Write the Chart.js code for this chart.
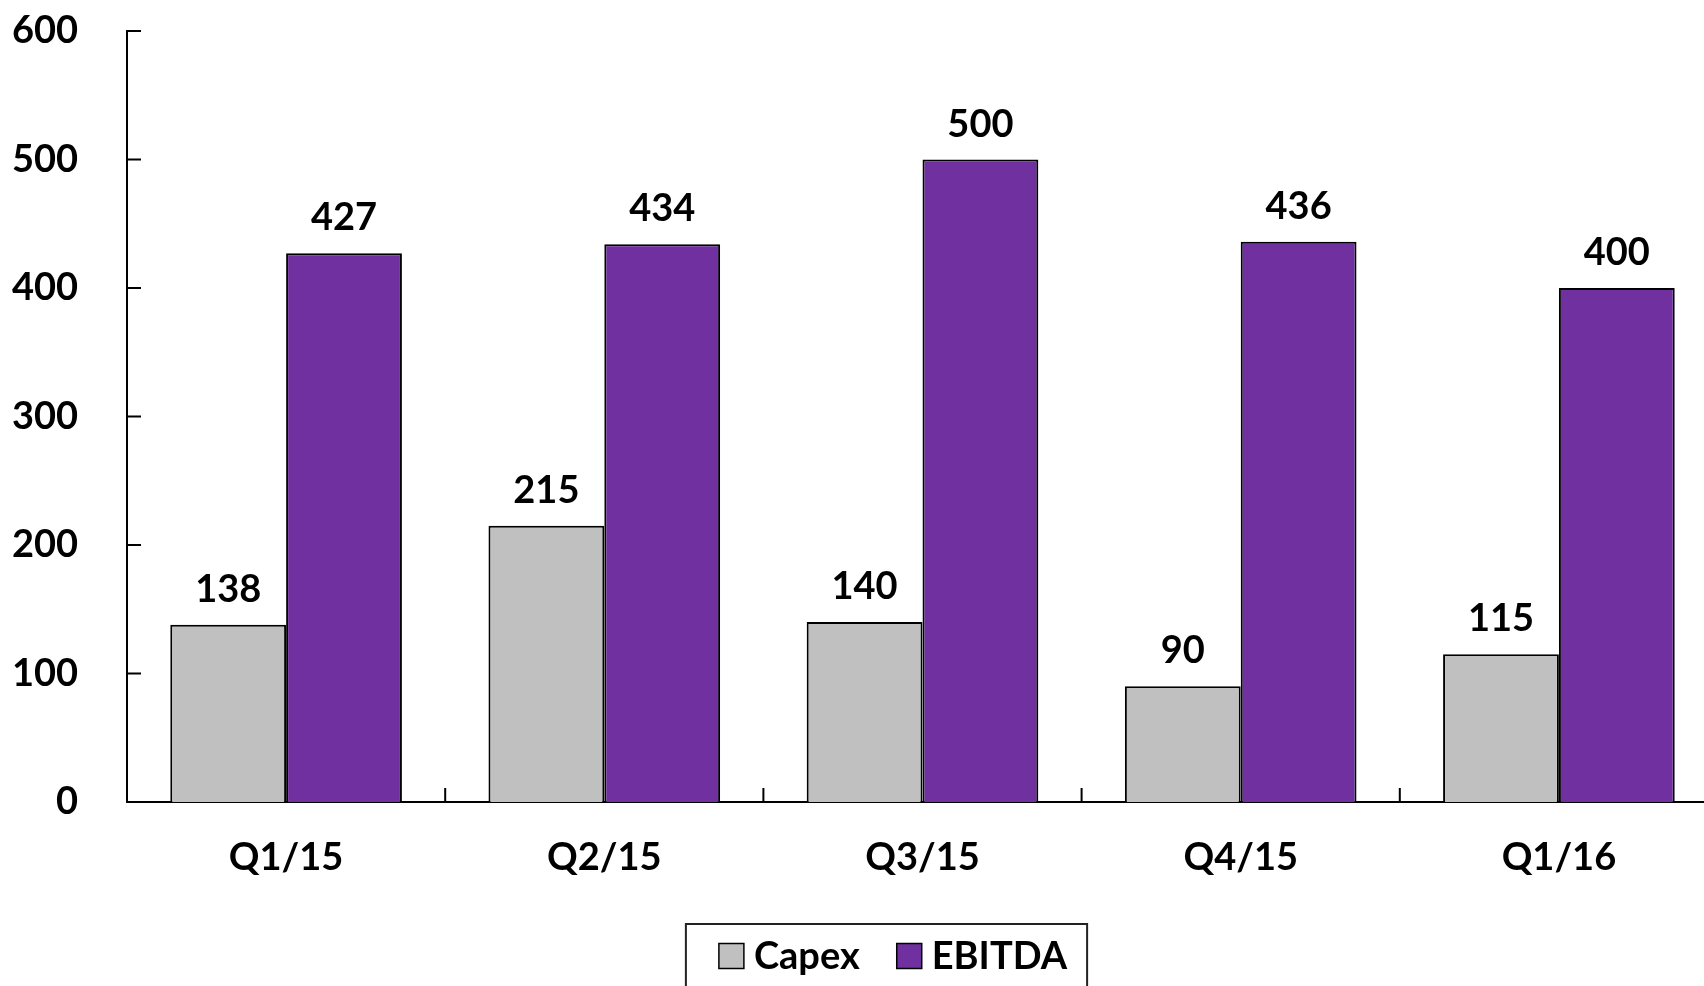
<!DOCTYPE html>
<html>
<head>
<meta charset="utf-8">
<title>Capex vs EBITDA</title>
<script src="https://cdn.jsdelivr.net/npm/chart.js@4.4.1/dist/chart.umd.min.js"></script>
<style>
    html, body { margin: 0; padding: 0; background: #fff; overflow: hidden; }
    #chart-wrap { width: 1718px; height: 992px; }
</style>
</head>
<body>
<div id="chart-wrap"><canvas id="capexChart" width="1718" height="992"></canvas></div>
<script>
// Chart data
const categories = ['Q1/15', 'Q2/15', 'Q3/15', 'Q4/15', 'Q1/16'];
const capexValues = [138, 215, 140, 90, 115];
const ebitdaValues = [427, 434, 500, 436, 400];
const yTicks = [0, 100, 200, 300, 400, 500, 600];

const FONT = 'Lato, "Open Sans", sans-serif';
const BOLD = { family: FONT, size: 38, weight: 'bold' };

// Inward tick marks on both axes (Excel style)
const innerTicks = {
    id: 'innerTicks',
    afterDraw(chart) {
        const { ctx, chartArea, scales } = chart;
        ctx.save();
        ctx.strokeStyle = '#000';
        ctx.lineWidth = 2;
        ctx.beginPath();
        scales.y.ticks.forEach(t => {
            const y = scales.y.getPixelForValue(t.value);
            ctx.moveTo(chartArea.left, y);
            ctx.lineTo(chartArea.left + 14, y);
        });
        // category boundaries
        for (let i = 1; i < categories.length; i++) {
            const x = (scales.x.getPixelForValue(i - 1) + scales.x.getPixelForValue(i)) / 2;
            ctx.moveTo(x, chartArea.bottom);
            ctx.lineTo(x, chartArea.bottom - 14);
        }
        ctx.stroke();
        ctx.restore();
    }
};

// Value labels above each bar
const valueLabels = {
    id: 'valueLabels',
    afterDatasetsDraw(chart) {
        const { ctx } = chart;
        ctx.save();
        ctx.font = `bold ${BOLD.size}px ${FONT}`;
        ctx.fillStyle = '#000';
        ctx.textAlign = 'center';
        ctx.textBaseline = 'alphabetic';
        chart.data.datasets.forEach((ds, di) => {
            chart.getDatasetMeta(di).data.forEach((bar, i) => {
                ctx.fillText(String(ds.data[i]), bar.x, bar.y - 23);
            });
        });
        ctx.restore();
    }
};

// Boxed legend below the axis
const boxedLegend = {
    id: 'boxedLegend',
    afterDraw(chart) {
        const { ctx } = chart;
        const sq = 25, gap = 10, itemGap = 37;
        const cy = 956;
        ctx.save();
        ctx.font = `bold ${BOLD.size}px ${FONT}`;
        const items = chart.data.datasets.map(ds => ({
            label: ds.label, color: ds.backgroundColor, w: ctx.measureText(ds.label).width
        }));
        const total = items.reduce((acc, it) => acc + sq + gap + it.w, 0) + itemGap * (items.length - 1);
        let x = 893 - total / 2;

        ctx.strokeStyle = '#222';
        ctx.lineWidth = 2;
        ctx.strokeRect(x - 33, 924, total + 53, 100);

        ctx.textBaseline = 'middle';
        ctx.textAlign = 'left';
        items.forEach(it => {
            ctx.fillStyle = it.color;
            ctx.fillRect(x, cy - sq / 2, sq, sq);
            ctx.strokeStyle = '#000';
            ctx.lineWidth = 1.5;
            ctx.strokeRect(x, cy - sq / 2, sq, sq);
            ctx.fillStyle = '#000';
            ctx.fillText(it.label, x + sq + gap, cy + 1);
            x += sq + gap + it.w + itemGap;
        });
        ctx.restore();
    }
};

const app = {
    init() {
        const ctx = document.getElementById('capexChart').getContext('2d');
        this.chart = new Chart(ctx, {
            type: 'bar',
            data: {
                labels: categories,
                datasets: [
                    { label: 'Capex', data: capexValues, backgroundColor: '#C0C0C0', borderColor: '#000', borderWidth: 2 },
                    { label: 'EBITDA', data: ebitdaValues, backgroundColor: '#7030A0', borderColor: '#000', borderWidth: 2 }
                ]
            },
            options: {
                responsive: false,
                animation: false,
                devicePixelRatio: 1,
                layout: { padding: { top: 31, right: 0, bottom: 0, left: 0 } },
                datasets: { bar: { categoryPercentage: 0.728, barPercentage: 1.0 } },
                plugins: { legend: { display: false }, tooltip: { enabled: false } },
                scales: {
                    x: {
                        grid: { display: false, drawTicks: false },
                        border: { display: true, color: '#000', width: 2 },
                        ticks: { color: '#000', font: BOLD, padding: 33, maxRotation: 0 },
                        afterFit: scale => { scale.height = 190; }
                    },
                    y: {
                        min: 0,
                        max: 600,
                        afterBuildTicks: scale => { scale.ticks = yTicks.map(v => ({ value: v })); },
                        grid: { display: false, drawTicks: false },
                        border: { display: true, color: '#000', width: 2 },
                        ticks: { color: '#000', font: BOLD, padding: 49 },
                        afterFit: scale => {
                            scale.width = 127;
                            // label padding would otherwise push the plot down
                            scale.paddingTop = 0;
                            scale.paddingBottom = 0;
                        }
                    }
                }
            },
            plugins: [innerTicks, valueLabels, boxedLegend]
        });
    }
};

window.onload = () => app.init();
</script>
</body>
</html>
